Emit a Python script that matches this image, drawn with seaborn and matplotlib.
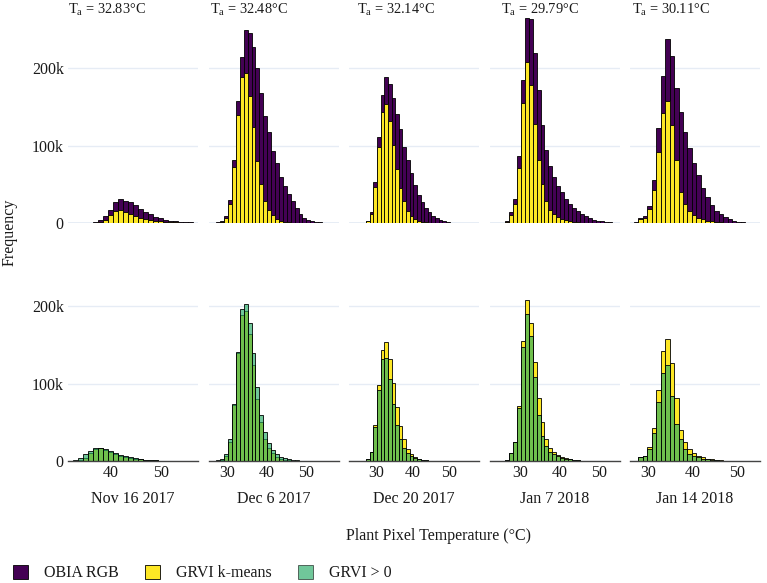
import numpy as np
import pandas as pd
import matplotlib
matplotlib.use("Agg")
import matplotlib.pyplot as plt
import seaborn as sns
from matplotlib.patches import Patch
from matplotlib.ticker import FuncFormatter

# ---------------- data ----------------
dates = ["Nov 16 2017", "Dec 6 2017", "Dec 20 2017", "Jan 7 2018", "Jan 14 2018"]
air_temps = [32.83, 32.48, 32.14, 29.79, 30.11]
series_names = ["OBIA RGB", "GRVI k-means", "GRVI > 0"]
bin_width = 1.0
bin_starts = [31.4, 25.2, 22.1, 22.2, 25.9]
x_ticks = [[40, 50], [30, 40, 50], [30, 40, 50], [30, 40, 50], [30, 40, 50]]
y_ticks = [0, 100000, 200000]

obia_nov16 = [300, 1000, 3500, 9000, 17000, 27000, 30500, 29000, 26500, 23000, 18500, 14500, 11000,
              8000, 6000, 4300, 3200, 2300, 1600, 1100, 700, 400, 200, 100, 0, 0]
kmeans_nov16 = [100, 400, 1500, 4500, 10000, 16000, 16400, 14000, 11000, 8500, 6300, 4800, 3600,
                2700, 2000, 1400, 1000, 700, 450, 300, 200, 100, 50, 0, 0, 0]
grvi_nov16 = [600, 1700, 4300, 8500, 13500, 16800, 17000, 15300, 12800, 10500, 8300, 6300, 4800,
              3500, 2500, 1800, 1200, 800, 600, 400, 300, 200, 150, 100, 50, 30]

obia_dec6 = [0, 0, 1000, 3000, 9500, 30000, 81000, 157000, 215000, 249000, 246000, 228000, 200000,
             168000, 138000, 118000, 93000, 77000, 60000, 48000, 38000, 28000, 19000, 12000, 7000,
             4000, 2200, 1300, 800, 400, 200, 100]
kmeans_dec6 = [0, 0, 600, 1500, 6000, 25000, 72000, 139000, 188000, 194000, 164000, 124000, 80000,
               51000, 28000, 17000, 10000, 5500, 3000, 1700, 1000, 500, 300, 150, 100, 50, 0, 0, 0,
               0, 0, 0]
grvi_dec6 = [0, 0, 1000, 3000, 9000, 28000, 74000, 141000, 196000, 203000, 178000, 139000, 96000,
             59000, 38000, 23000, 14000, 9000, 5600, 3400, 2000, 1200, 700, 400, 200, 100, 50, 0, 0,
             0, 0, 0]

obia_dec20 = [0, 0, 0, 0, 300, 3000, 14000, 53000, 111000, 166000, 188000, 180000, 162000, 141000,
              122000, 98000, 81000, 64000, 49000, 36000, 27000, 19000, 14000, 9600, 6500, 4000, 2200,
              1000, 600, 300, 200, 100, 100, 50, 0, 0]
kmeans_dec20 = [0, 0, 0, 0, 200, 2000, 11000, 46000, 98000, 144000, 154000, 132000, 101000, 70000,
                45000, 28000, 16000, 9000, 5000, 2700, 1500, 800, 400, 200, 100, 50, 0, 0, 0, 0, 0,
                0, 0, 0, 0, 0]
grvi_dec20 = [0, 0, 0, 0, 200, 2000, 11000, 44000, 92000, 132000, 133000, 106000, 74000, 46000,
              28000, 17000, 10000, 6000, 3500, 2000, 1200, 700, 400, 200, 100, 50, 0, 0, 0, 0, 0,
              0, 0, 0, 0, 0]

obia_jan7 = [0, 0, 0, 300, 2000, 14000, 31000, 86000, 185000, 265000, 263000, 220000, 172000,
             126000, 94000, 74000, 59000, 48000, 40000, 31000, 25000, 19000, 15000, 11600, 8600,
             6500, 4300, 3000, 2000, 1300, 800, 500, 300, 100]
kmeans_jan7 = [0, 0, 0, 200, 1500, 10500, 24000, 71000, 155000, 208000, 178000, 128000, 82000,
               50000, 28000, 17000, 12000, 8000, 5500, 4000, 2500, 1600, 1000, 600, 400, 200, 100,
               50, 0, 0, 0, 0, 0, 0]
grvi_jan7 = [0, 0, 0, 200, 1500, 10500, 24000, 68000, 147000, 190000, 162000, 109000, 60000, 32000,
             19000, 12000, 9000, 6500, 4500, 3200, 2200, 1400, 900, 500, 300, 150, 80, 40, 0, 0, 0,
             0, 0, 0]

obia_jan14 = [300, 1000, 6000, 9500, 22000, 55000, 123000, 190000, 238000, 216000, 175000, 143000,
              118000, 97000, 77000, 62000, 45000, 33000, 23000, 16000, 11000, 7400, 4800, 3000,
              1700, 900, 500, 300, 100]
kmeans_jan14 = [0, 300, 5500, 7000, 17500, 43000, 92000, 142000, 158000, 126000, 82000, 40000,
                24000, 15000, 10000, 7000, 5000, 3000, 2000, 1200, 700, 400, 200, 100, 0, 0, 0, 0, 0]
grvi_jan14 = [0, 0, 5500, 7000, 15000, 36000, 76000, 114000, 124000, 84000, 48000, 29000, 16000,
              9500, 6500, 5000, 3000, 2000, 1200, 700, 400, 200, 100, 0, 0, 0, 0, 0, 0]

obia = [obia_nov16, obia_dec6, obia_dec20, obia_jan7, obia_jan14]
kmeans = [kmeans_nov16, kmeans_dec6, kmeans_dec20, kmeans_jan7, kmeans_jan14]
grvi = [grvi_nov16, grvi_dec6, grvi_dec20, grvi_jan7, grvi_jan14]

# x ranges shown in each panel (top row / bottom row)
top_xlims = [(27.34, 53.34), (25.2, 58.4), (22.37, 58.2), (22.28, 55.2), (26.0, 55.2)]
bottom_xlims = [(31.4, 57.4), (25.2, 58.4), (22.37, 58.2), (22.28, 55.2), (26.0, 55.2)]

# ---------------- style ----------------
PURPLE = "#440154"
YELLOW = "#FDE725"
TEAL = "#23AA64"
TEAL_ALPHA = 0.65
EDGE = "#000000"
GRID = "#E6ECF5"
TEXT = "#1a1a1a"

sns.set_theme(style="white")
plt.rcParams["font.family"] = ["Liberation Serif", "DejaVu Serif"]
plt.rcParams["mathtext.fontset"] = "custom"
plt.rcParams["mathtext.rm"] = "Liberation Serif"
plt.rcParams["text.color"] = TEXT

W, H = 767, 583
fig = plt.figure(figsize=(W / 100, H / 100), dpi=100)

col_left = [68 + 140.5 * i for i in range(5)]
col_w = 130
rows_px = [(14, 223), (252, 461)]


def draw_hist(ax, start, counts, color, alpha):
    counts = np.asarray(counts, dtype=float)
    nz = np.nonzero(counts)[0]
    lo, hi = int(nz[0]), int(nz[-1]) + 1
    left = start + bin_width * lo
    right = start + bin_width * hi
    centers = left + bin_width * (np.arange(hi - lo) + 0.5)
    df = pd.DataFrame({"temp": centers, "count": counts[lo:hi]})
    sns.histplot(data=df, x="temp", weights="count", binwidth=bin_width,
                 binrange=(left, right), ax=ax, color=color, alpha=alpha,
                 edgecolor=EDGE, linewidth=0.6, element="bars", fill=True)


kfmt = FuncFormatter(lambda v, p: "0" if v == 0 else f"{int(round(v / 1000))}k")

for c in range(5):
    for r in range(2):
        y0, y1 = rows_px[r]
        ax = fig.add_axes([col_left[c] / W, 1 - y1 / H, col_w / W, (y1 - y0) / H])
        ax.set_axisbelow(True)
        if r == 0:
            draw_hist(ax, bin_starts[c], obia[c], PURPLE, 1.0)
            draw_hist(ax, bin_starts[c], kmeans[c], YELLOW, 1.0)
            ax.set_xlim(*top_xlims[c])
            ax.set_xticks([])
            ax.set_xlabel("")
            ax.axhline(0, color=GRID, lw=2, zorder=0)
        else:
            draw_hist(ax, bin_starts[c], kmeans[c], YELLOW, 1.0)
            draw_hist(ax, bin_starts[c], grvi[c], TEAL, TEAL_ALPHA)
            ax.set_xlim(*bottom_xlims[c])
            ax.set_xticks(x_ticks[c])
            ax.set_xlabel(dates[c], fontsize=11.5, labelpad=7, color=TEXT)
            ax.tick_params(axis="x", length=0, pad=3, labelsize=11.5, labelcolor=TEXT)
        ax.set_ylim(0, 270000)
        ax.set_yticks(y_ticks)
        ax.yaxis.set_major_formatter(kfmt)
        ax.grid(axis="y", color=GRID, lw=1)
        ax.grid(axis="x", visible=False)
        ax.set_ylabel("")
        for s in ["top", "right", "left"]:
            ax.spines[s].set_visible(False)
        if r == 0:
            ax.spines["bottom"].set_visible(False)
        else:
            ax.spines["bottom"].set_color("#444444")
            ax.spines["bottom"].set_linewidth(1.0)
        if c == 0:
            ax.tick_params(axis="y", length=0, pad=3, labelsize=11.5, labelcolor=TEXT)
        else:
            ax.tick_params(axis="y", length=0, labelleft=False)

# panel titles
title_left = [68, 210, 357, 500.7, 632]
for c in range(5):
    fig.text(title_left[c] / W, 1 - 10 / H, r"$\mathregular{T_a}$" + f" = {air_temps[c]:.2f}°C",
             ha="left", va="center", fontsize=10.4, color=TEXT)

fig.text(438 / W, 1 - 536 / H, "Plant Pixel Temperature (°C)", ha="center", va="center",
         fontsize=11.5, color=TEXT)
fig.text(10 / W, 1 - 232 / H, "Frequency", ha="center", va="center", rotation=90,
         fontsize=11.5, color=TEXT)

handles = [Patch(facecolor=PURPLE, edgecolor=EDGE, linewidth=0.6),
           Patch(facecolor=YELLOW, edgecolor=EDGE, linewidth=0.6),
           Patch(facecolor=TEAL, alpha=TEAL_ALPHA, edgecolor=EDGE, linewidth=0.6)]
fig.legend(handles, series_names, loc="center left", bbox_to_anchor=(13 / W, 1 - 573 / H),
           ncol=3, frameon=False, fontsize=11.5, handlelength=0.94, handleheight=0.94,
           handletextpad=1.0, columnspacing=1.65, borderpad=0, borderaxespad=0)

fig.savefig("out.png", dpi=100)
